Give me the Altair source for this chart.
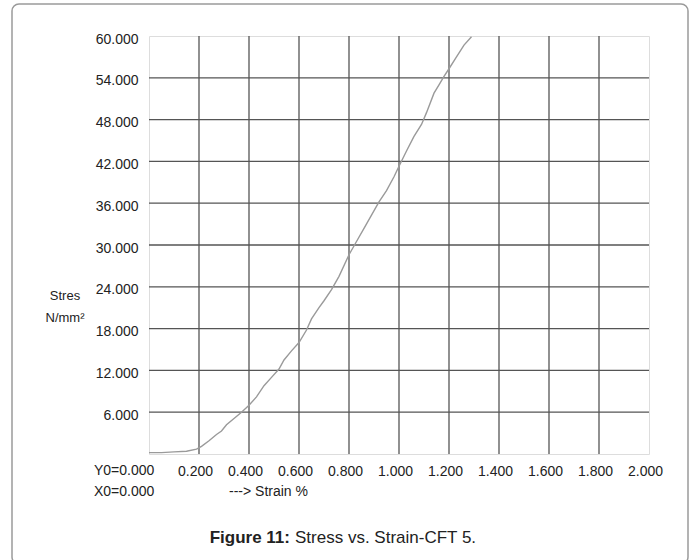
import altair as alt
import pandas as pd

# ---- data ----
strain = [0.0, 0.05, 0.10, 0.15, 0.19, 0.21, 0.24, 0.27, 0.29, 0.31, 0.34, 0.37, 0.40,
          0.43, 0.46, 0.49, 0.52, 0.54, 0.57, 0.60, 0.63, 0.65, 0.68, 0.70, 0.73, 0.76,
          0.80, 0.83, 0.86, 0.89, 0.92, 0.95, 0.98, 1.00, 1.03, 1.06, 1.09, 1.11, 1.14,
          1.16, 1.18, 1.20, 1.23, 1.26, 1.29]
stress = [0.2, 0.2, 0.3, 0.4, 0.7, 1.1, 1.9, 2.8, 3.3, 4.2, 5.1, 6.0, 7.0,
          8.2, 9.8, 11.0, 12.2, 13.5, 14.8, 16.0, 17.8, 19.4, 21.0, 22.0, 23.6, 25.5,
          28.6, 30.5, 32.4, 34.3, 36.2, 37.8, 39.8, 41.3, 43.5, 45.6, 47.3, 49.0, 51.8,
          53.0, 54.2, 55.3, 57.0, 58.7, 59.9]

x_ticks = [0.2, 0.4, 0.6, 0.8, 1.0, 1.2, 1.4, 1.6, 1.8, 2.0]
y_ticks = [6, 12, 18, 24, 30, 36, 42, 48, 54, 60]
x_grid = x_ticks[:-1]
y_grid = y_ticks[:-1]

FONT = "Liberation Sans"

curve = pd.DataFrame({"strain": strain, "stress": stress})
xs = alt.Scale(domain=[0, 2], nice=False)
ys = alt.Scale(domain=[0, 60], nice=False)

xaxis = alt.Axis(values=x_ticks, format=".3f", title=None, grid=False, ticks=False,
                 domain=False, labelFontSize=14, labelFont=FONT, labelColor="#222",
                 labelPadding=10, labelOffset=-4, labelOverlap=False, labelFlush=False,
                 labelBound=False)
yaxis = alt.Axis(values=y_ticks, format=".3f", title=None, grid=False, ticks=False,
                 domain=False, labelFontSize=14, labelFont=FONT, labelColor="#222",
                 labelPadding=11, labelOffset=3, labelOverlap=False, labelFlush=False,
                 labelBound=False)

line = alt.Chart(curve).mark_line(color="#9a9a9a", strokeWidth=1.4).encode(
    x=alt.X("strain:Q", scale=xs, axis=xaxis),
    y=alt.Y("stress:Q", scale=ys, axis=yaxis),
)

vgrid = alt.Chart(pd.DataFrame({"gx": x_grid})).mark_rule(color="#555", strokeWidth=1.3).encode(
    x=alt.X("gx:Q", scale=xs, axis=xaxis)
)
hgrid = alt.Chart(pd.DataFrame({"gy": y_grid})).mark_rule(color="#555", strokeWidth=1.3).encode(
    y=alt.Y("gy:Q", scale=ys, axis=yaxis)
)

one = pd.DataFrame({"a": [0]})


def label(text, x, y, align="center", size=14, weight="normal"):
    return alt.Chart(one).mark_text(text=text, align=align, baseline="middle",
                                    fontSize=size, font=FONT, fontWeight=weight,
                                    color="#222").encode(x=alt.value(x), y=alt.value(y))


frame = alt.Chart(one).mark_rect(fill=None, stroke="#9a9a9a", strokeWidth=1.5,
                                 cornerRadius=7).encode(
    x=alt.value(-137), x2=alt.value(539), y=alt.value(-32), y2=alt.value(528)
)

texts = [
    label("Stres", -84, 260, size=13),
    label("N/mm²", -84, 282, size=13),
    label("Y0=0.000", -55, 435, align="left"),
    label("X0=0.000", -55, 456, align="left"),
    label("---> Strain %", 80, 456, align="left"),
    label("Figure 11:", 141, 502, align="right", size=17, weight="bold"),
    label("Stress vs. Strain-CFT 5.", 146, 502, align="left", size=17),
]

chart = alt.layer(vgrid, hgrid, line, frame, *texts).properties(
    width=500, height=418,
    autosize=alt.AutoSizeParams(type="none"),
    padding={"left": 149, "top": 36, "right": 47, "bottom": 106},
).configure_view(stroke="#9a9a9a", strokeWidth=2).configure(background="white")

chart.save("out.html", embed_options={"renderer": "svg", "actions": False})
